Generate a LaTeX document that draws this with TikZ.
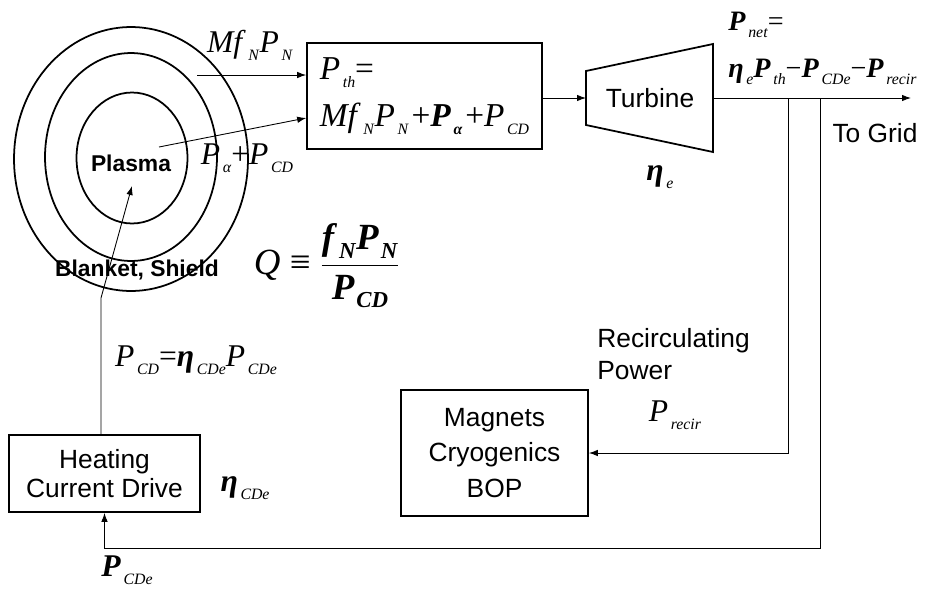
\documentclass[tikz,border=0pt]{standalone}
\usepackage{amsmath}
\usepackage{fontspec}
\setmainfont{Liberation Serif}
\setsansfont{Liberation Sans}
\usetikzlibrary{arrows.meta, positioning, calc}
% quantity with a small lowered subscript
\newcommand{\vsub}[2]{\textit{#1}\kern1.5pt\raisebox{-0.55ex}{\fontsize{9}{9}\selectfont\textit{#2}}}
\newcommand{\bvsub}[2]{\textbf{\textit{#1}}\kern1.5pt\raisebox{-0.55ex}{\fontsize{9}{9}\selectfont\textit{#2}}}
\newcommand{\qsub}[2]{\textbf{\textit{#1}}\kern1pt\raisebox{-0.5ex}{\fontsize{13}{13}\selectfont\textbf{\textit{#2}}}}

\begin{document}
\begin{tikzpicture}[
    x=0.02cm, y=-0.02cm,
    font=\sffamily\fontsize{15}{18}\selectfont,
    box/.style={draw, line width=1pt, align=center, inner sep=2pt},
    ring/.style={line width=1pt},
    bold/.style={font=\sffamily\bfseries\fontsize{13}{15}\selectfont},
    eq/.style={font=\rmfamily\fontsize{18}{20}\selectfont, inner sep=0pt},
    arrow/.style={-{Latex[length=1.8mm,width=1.3mm]}, line width=0.5pt}
]
\useasboundingbox (0,0) rectangle (951,592);

% Plasma, blanket and shield
\draw[ring] (131,159) ellipse [x radius=2.34cm, y radius=2.64cm];
\draw[ring] (131,157) ellipse [x radius=1.72cm, y radius=2.08cm];
\draw[ring] (132,158) ellipse [x radius=1.11cm, y radius=1.31cm];
\node[bold] (plasma) at (131,163) {Plasma};
\node[bold] (blanket) at (137,270) {Blanket, Shield};

% Thermal power box
\node[box, minimum width=4.7cm, minimum height=2.12cm, font=\rmfamily\fontsize{19}{26.6}\selectfont, align=left] (pth) at (424.5,96)
    {\vsub{P}{th}=\\\vsub{Mf}{N}\vsub{P}{N}\kern1.5pt+\bvsub{P}{\textbf{α}}\kern1.5pt+\vsub{P}{CD}};

% Turbine
\coordinate (tlt) at (586,71);
\coordinate (tlb) at (586,125);
\coordinate (trt) at (713,44);
\coordinate (trb) at (713,152);
\draw[line width=1pt] (tlt) -- (trt) -- (trb) -- (tlb) -- cycle;
\node (turbine) at (650,98) {Turbine};
\coordinate (tin) at (586,98);
\coordinate (tout) at (713,98);

% Loads
\node[box, minimum width=3.74cm, minimum height=2.52cm, font=\sffamily\fontsize{15}{20}\selectfont] (magnets) at (494.5,453)
    {Magnets\\Cryogenics\\BOP};
\node[box, minimum width=3.82cm, minimum height=1.54cm, font=\sffamily\fontsize{15}{16.5}\selectfont] (hcd) at (104.5,473.5)
    {Heating\\Current Drive};

% Labels
\node[eq] (mflabel) at (250,45) {\vsub{Mf}{N}\vsub{P}{N}};
\node[eq] (palabel) at (247,158) {\vsub{P}{α}+\vsub{P}{CD}};
\node[eq, font=\rmfamily\fontsize{21}{24}\selectfont] (qlabel) at (327,266)
    {\textit{Q} ≡ $\dfrac{\text{\qsub{f}{N}\qsub{P}{N}}}{\text{\qsub{P}{CD}}}$};
\node[eq, font=\rmfamily\fontsize{16}{20}\selectfont, anchor=west] (pnet) at (728,25) {\bvsub{P}{net}=};
\node[eq, font=\rmfamily\fontsize{16}{20}\selectfont, anchor=west] (pnetval) at (728,72)
    {\bvsub{η}{e}\bvsub{P}{th}−\bvsub{P}{CDe}−\bvsub{P}{recir}};
\node (grid) at (875,133) {To Grid};
\node[eq] (etae) at (660,177) {\bvsub{η}{e}};
\node[anchor=north west, align=left, inner sep=0pt] (recirc) at (597,328) {Recirculating\\Power};
\node[eq] (precir) at (675,415) {\vsub{P}{recir}};
\node[eq] (etacd) at (245,488) {\bvsub{η}{CDe}};
\node[eq] (pcdeq) at (196,360) {\vsub{P}{CD}=\bvsub{η}{CDe}\vsub{P}{CDe}};
\node[eq] (pcde) at (127,570) {\bvsub{P}{CDe}};

% Arrows
\coordinate (mfstart) at (197,75);
\coordinate (plasmaout) at (159,147);
\coordinate (plasmain) at (132,186);
\coordinate (kink) at (101,298);
\coordinate (tapA) at (788,98);
\coordinate (tapB) at (820,98);
\coordinate (togrid) at (911,98);
\coordinate (loop) at (820,548);

\draw[arrow] (mfstart) -- (mfstart -| pth.west);
\draw[arrow] (plasmaout) -- ($(pth.west)+(0,22)$);
\draw[arrow] (pth.east |- tin) -- (tin);
\draw[arrow] (tout) -- (togrid);
\draw[arrow] (tapA) |- (magnets.east);
\draw[arrow] (tapB) -- (loop) -| (hcd.south);
\draw[arrow] (hcd.north -| kink) -- (kink) -- (plasmain);

\end{tikzpicture}
\end{document}
